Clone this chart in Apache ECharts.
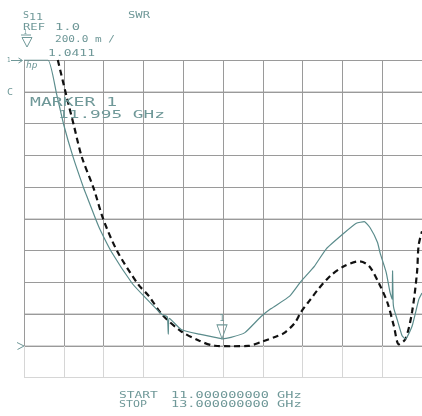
<!DOCTYPE html>
<html>
<head>
<meta charset="utf-8">
<script src="https://cdn.jsdelivr.net/npm/echarts@6/dist/echarts.min.js"></script>
<style>
  html, body { margin: 0; padding: 0; background: #ffffff; }
  #chart { width: 422px; height: 416px; }
</style>
</head>
<body>
<div id="chart"></div>
<script>
// Sweep and display scale (GHz, SWR units)
const freqStart = 11.0;
const freqStop = 13.0;
const freqStep = 0.2;
const swrBottom = 0.8;
const swrRef = 1.0;
const swrTop = 2.8;
const swrStep = 0.2;

// Measured trace (solid)
const measuredFreq = [
  11.00, 11.12, 11.163, 11.20, 11.246, 11.299, 11.322, 11.362, 11.382, 11.439,
  11.544, 11.599, 11.693, 11.72, 11.725, 11.73, 11.79, 11.88, 11.96, 11.995,
  12.04, 12.11, 12.19, 12.24, 12.335, 12.39, 12.46, 12.52, 12.61, 12.67,
  12.71, 12.74, 12.776, 12.79, 12.82, 12.84, 12.850, 12.852, 12.855, 12.859,
  12.876, 12.90, 12.917, 12.95, 12.984, 13.00
];
const measuredSwr = [
  2.80, 2.80, 2.59, 2.39, 2.19, 1.995, 1.92, 1.79, 1.73, 1.59,
  1.39, 1.315, 1.195, 1.18, 1.07, 1.17, 1.10, 1.07, 1.05, 1.0411,
  1.05, 1.08, 1.18, 1.23, 1.31, 1.40, 1.50, 1.61, 1.71, 1.77,
  1.78, 1.74, 1.65, 1.58, 1.46, 1.33, 1.29, 1.47, 1.27, 1.23,
  1.16, 1.06, 1.04, 1.12, 1.29, 1.33
];

// Simulated trace (dashed)
const simulatedFreq = [
  11.17, 11.21, 11.25, 11.29, 11.35, 11.40, 11.47, 11.574, 11.628, 11.693,
  11.788, 11.878, 11.96, 12.05, 12.127, 12.19, 12.277, 12.31, 12.36, 12.392,
  12.44, 12.476, 12.541, 12.61, 12.686, 12.734, 12.784, 12.826, 12.859, 12.884,
  12.917, 12.95, 12.975, 12.983, 13.00
];
const simulatedSwr = [
  2.80, 2.59, 2.39, 2.19, 1.99, 1.79, 1.59, 1.384, 1.31, 1.195,
  1.09, 1.03, 0.997, 0.994, 0.996, 1.02, 1.06, 1.08, 1.14, 1.21,
  1.29, 1.35, 1.44, 1.50, 1.53, 1.50, 1.39, 1.27, 1.12, 1.006,
  1.04, 1.21, 1.46, 1.63, 1.72
];

// Marker 1
const markerFreq = 11.995;
const markerSwr = 1.0411;

const ink = '#6f9898';
const traceInk = '#5b8c8c';
const gridDark = '#9a9a9a';
const gridLight = '#d6d6d6';
const monoFont = '"DejaVu Sans Mono", monospace';

function zip(xs, ys) {
  return xs.map((x, i) => [x, ys[i]]);
}

// Plotter-style text: sized by cap height and stretched to a given ink width
function label(text, left, capTop, capH, width, extra) {
  const size = capH / 0.73;
  const sx = width / (text.length * 0.602 * size);
  return Object.assign({
    type: 'text',
    x: left,
    y: capTop + capH / 2 + 0.07 * size,
    scaleX: sx,
    silent: true,
    z: 20,
    style: {
      text: text,
      font: size.toFixed(2) + 'px ' + monoFont,
      fill: ink,
      align: 'left',
      verticalAlign: 'middle'
    }
  }, extra || {});
}

function stroke(points, closed) {
  return {
    type: closed ? 'polygon' : 'polyline',
    silent: true,
    z: 20,
    shape: { points: points },
    style: { stroke: ink, fill: null, lineWidth: 1 }
  };
}

const hiddenAxisParts = {
  axisLine: { show: false },
  axisTick: { show: false },
  axisLabel: { show: false }
};

const option = {
  animation: false,
  backgroundColor: '#ffffff',
  grid: [
    { left: 24, top: 60, width: 401, height: 317 },
    { left: 24, top: 60, width: 401, height: 286 }
  ],
  xAxis: [
    Object.assign({
      gridIndex: 0, type: 'value', min: freqStart, max: freqStop, interval: freqStep,
      splitLine: { show: true, lineStyle: { color: gridLight, width: 1 } }
    }, hiddenAxisParts),
    Object.assign({
      gridIndex: 1, type: 'value', min: freqStart, max: freqStop, interval: freqStep,
      splitLine: { show: true, lineStyle: { color: gridDark, width: 1 } }
    }, hiddenAxisParts)
  ],
  yAxis: [
    Object.assign({
      gridIndex: 0, type: 'value', min: swrBottom, max: swrTop, interval: swrStep,
      splitLine: { show: true, lineStyle: { color: gridLight, width: 1 } }
    }, hiddenAxisParts),
    Object.assign({
      gridIndex: 1, type: 'value', min: swrRef, max: swrTop, interval: swrStep,
      splitLine: { show: true, lineStyle: { color: gridDark, width: 1 } }
    }, hiddenAxisParts)
  ],
  series: [
    {
      name: 'simulated',
      type: 'line',
      xAxisIndex: 0, yAxisIndex: 0,
      data: zip(simulatedFreq, simulatedSwr),
      showSymbol: false,
      smooth: 0.3,
      clip: true,
      lineStyle: { color: '#111111', width: 2.2, type: [6, 4] },
      z: 3
    },
    {
      name: 'measured',
      type: 'line',
      xAxisIndex: 0, yAxisIndex: 0,
      data: zip(measuredFreq, measuredSwr),
      showSymbol: false,
      smooth: 0.15,
      clip: true,
      lineStyle: { color: traceInk, width: 1.2 },
      z: 4,
      markPoint: {
        silent: true,
        symbol: 'path://M0,0L10,0L5,14Z',
        symbolSize: [10, 14],
        symbolOffset: [0, -7],
        itemStyle: { color: 'rgba(255,255,255,0)', borderColor: ink, borderWidth: 1 },
        label: {
          show: true, position: 'top', distance: 1, formatter: '1',
          color: ink, fontSize: 9, fontFamily: monoFont
        },
        data: [{ coord: [markerFreq, markerSwr] }]
      }
    }
  ],
  graphic: [
    label('S', 23, 11.5, 7, 6),
    label('11', 29, 14.5, 6, 14),
    label('SWR', 128, 12, 6, 22),
    label('REF', 23, 23, 7, 22),
    label('1.0', 55, 23, 7, 25),
    label('1', 23.5, 29.5, 5, 3.5),
    stroke([[21, 35], [31, 35]]),
    stroke([[22, 37.5], [32, 37.5], [27, 47]], true),
    label('200.0 m /', 55, 35, 7, 60),
    label('1.0411', 48, 49, 7, 47),
    label('1', 7, 57, 5, 3.5),
    stroke([[11, 60.5], [22, 60.5]]),
    stroke([[18.5, 58], [22.5, 60.5], [18.5, 63]]),
    label('hp', 26, 62, 6, 11, { style: { text: 'hp', font: 'italic 8.5px ' + monoFont, fill: ink, align: 'left', verticalAlign: 'middle' } }),
    label('C', 7, 89, 6, 6),
    label('MARKER 1', 30, 97, 9, 87),
    label('11.995 GHz', 58, 110, 8, 107),
    stroke([[17, 342.5], [24, 346], [17.5, 349.5]]),
    label('START', 119, 392, 6.5, 39),
    label('11.000000000 GHz', 171, 392, 6.5, 131),
    label('STOP', 119, 401, 6.5, 28),
    label('13.000000000 GHz', 171, 401, 6.5, 131)
  ]
};

const chart = echarts.init(document.getElementById('chart'), null, { renderer: 'canvas' });
chart.setOption(option);
</script>
</body>
</html>
